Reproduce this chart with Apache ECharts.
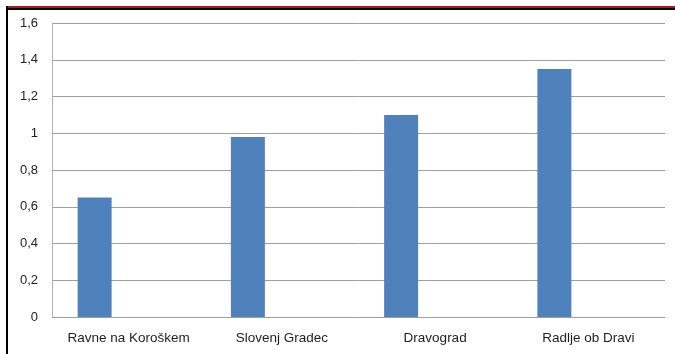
<!DOCTYPE html>
<html>
<head>
<meta charset="utf-8">
<script src="https://cdn.jsdelivr.net/npm/echarts@6/dist/echarts.min.js"></script>
<style>
  html, body { margin: 0; padding: 0; background: #ffffff; }
  #chart { width: 675px; height: 354px; }
</style>
</head>
<body>
<div id="chart"></div>
<script>
// Municipalities shown on the category axis
const categories = ['Ravne na Koroškem', 'Slovenj Gradec', 'Dravograd', 'Radlje ob Dravi'];
// Values per municipality
const values = [0.65, 0.98, 1.10, 1.35];
// Two further series of the cluster hold no data, so each bar sits left of its category centre
const emptyA = [null, null, null, null];
const emptyB = [null, null, null, null];
// Value axis ticks
const yTicks = [0, 0.2, 0.4, 0.6, 0.8, 1, 1.2, 1.4, 1.6];

const chart = echarts.init(document.getElementById('chart'), null, { renderer: 'canvas' });

const fontFamily = '"Liberation Sans", Arial, sans-serif';

chart.setOption({
  animation: false,
  backgroundColor: '#ffffff',
  grid: { left: 52, right: 10, top: 23, bottom: 37, containLabel: false },
  xAxis: {
    type: 'category',
    data: categories,
    axisLine: { show: false },
    axisTick: { show: false },
    axisLabel: { color: '#1e1e1e', fontSize: 13.5, fontFamily: fontFamily, margin: 14, interval: 0 }
  },
  yAxis: {
    type: 'value',
    min: yTicks[0],
    max: yTicks[yTicks.length - 1],
    interval: 0.2,
    axisLine: { show: true, lineStyle: { color: '#b4b4b4', width: 1 } },
    axisTick: { show: false },
    splitLine: { show: true, lineStyle: { color: '#9e9e9e', width: 1 } },
    axisLabel: {
      color: '#1e1e1e', fontSize: 13, fontFamily: fontFamily, margin: 14,
      formatter: v => String(Math.round(v * 10) / 10).replace('.', ',')
    }
  },
  series: [
    { name: 'A', type: 'bar', data: values, barWidth: 34, barGap: '0%',
      itemStyle: { color: '#4f81bd' } },
    { name: 'B', type: 'bar', data: emptyA, barWidth: 34, barGap: '0%' },
    { name: 'C', type: 'bar', data: emptyB, barWidth: 34, barGap: '0%' }
  ],
  graphic: [
    // frame: red and black rule along the top, black rule on the left
    { type: 'rect', shape: { x: 6, y: 6, width: 669, height: 2 }, style: { fill: '#a51c1c' }, silent: true },
    { type: 'rect', shape: { x: 6, y: 8, width: 669, height: 2 }, style: { fill: '#000000' }, silent: true },
    { type: 'rect', shape: { x: 6, y: 6, width: 2, height: 348 }, style: { fill: '#000000' }, silent: true }
  ]
});
</script>
</body>
</html>
